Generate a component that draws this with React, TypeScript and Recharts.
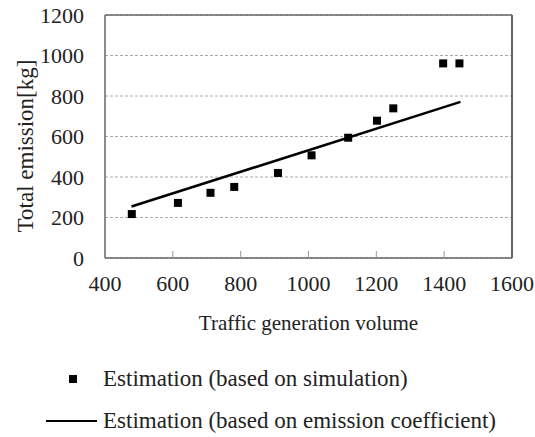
import {
  ScatterChart,
  Scatter,
  XAxis,
  YAxis,
  CartesianGrid,
  ReferenceLine,
  Legend,
  Label,
} from "recharts";

const FONT = "'Liberation Serif', 'Times New Roman', serif";
const AXIS_GRAY = "#666666";

// simulated estimation points (traffic volume, kg)
const simVolume = [479, 615, 711, 781, 910, 1009, 1117, 1202, 1250, 1397, 1445];
const simEmission = [217, 272, 322, 351, 420, 507, 594, 678, 739, 961, 961];

// emission coefficient line endpoints
const coefVolume = [478, 1448];
const coefEmission = [254, 771];

const xTicks = [400, 600, 800, 1000, 1200, 1400, 1600];
const yTicks = [0, 200, 400, 600, 800, 1000, 1200];

const seriesNames = [
  "Estimation (based on simulation)",
  "Estimation (based on emission coefficient)",
];

const simData = simVolume.map((x, i) => ({ x, y: simEmission[i] }));
const coefData = coefVolume.map((x, i) => ({ x, y: coefEmission[i] }));

const TICK_MARGIN_X = 17;

function XTick(props: any) {
  const { x, y, payload } = props;
  const axisY = y - TICK_MARGIN_X;
  return (
    <g>
      {payload.value !== 400 && payload.value !== 1600 && (
        <line x1={x} x2={x} y1={axisY} y2={axisY - 7} stroke="#999" strokeWidth={1} />
      )}
      <text
        x={x}
        y={y}
        dy="0.71em"
        textAnchor="middle"
        fontFamily={FONT}
        fontSize={22}
        fill="#222"
      >
        {payload.value}
      </text>
    </g>
  );
}

function YTick(props: any) {
  const { x, y, payload } = props;
  return (
    <text
      x={x}
      y={y}
      dy="0.35em"
      textAnchor="end"
      fontFamily={FONT}
      fontSize={22}
      fill="#222"
    >
      {payload.value}
    </text>
  );
}

function SquareDot(props: any) {
  const { cx, cy } = props;
  if (cx == null || cy == null) return null;
  return <rect x={cx - 4} y={cy - 4} width={8} height={8} fill="#000" />;
}

function LegendBox() {
  const textStyle = {
    position: "absolute" as const,
    left: 103,
    fontFamily: FONT,
    fontSize: 23,
    color: "#222",
    lineHeight: "26px",
    whiteSpace: "nowrap" as const,
  };
  return (
    <div style={{ position: "relative", width: 535, height: 70 }}>
      <svg
        width={535}
        height={70}
        style={{ position: "absolute", left: 0, top: 0 }}
      >
        <rect x={69} y={5} width={8} height={8} fill="#000" />
        <line x1={46} x2={97} y1={51} y2={51} stroke="#000" strokeWidth={2} />
      </svg>
      <div style={{ ...textStyle, top: -4 }}>{seriesNames[0]}</div>
      <div style={{ ...textStyle, top: 38 }}>{seriesNames[1]}</div>
    </div>
  );
}

export default function App() {
  return (
    <div style={{ position: "absolute", left: 0, top: 0, width: 535, height: 437, background: "#fff" }}>
      <ScatterChart
        width={535}
        height={437}
        margin={{ top: 15, right: 23, left: 0, bottom: 99 }}
      >
        <CartesianGrid
          vertical={false}
          stroke="#aaa"
          strokeDasharray="3 2"
        />
        <XAxis
          type="number"
          dataKey="x"
          domain={[400, 1600]}
          ticks={xTicks}
          interval={0}
          height={80}
          tickLine={false}
          tickSize={0}
          tickMargin={TICK_MARGIN_X}
          tick={<XTick />}
          axisLine={{ stroke: AXIS_GRAY, strokeWidth: 1.5 }}
        >
          <Label
            content={(p: any) => {
              const vb = p.viewBox;
              return (
                <text
                  x={vb.x + vb.width / 2}
                  y={vb.y + 65}
                  textAnchor="middle"
                  dominantBaseline="central"
                  fontFamily={FONT}
                  fontSize={21}
                  fill="#222"
                >
                  Traffic generation volume
                </text>
              );
            }}
          />
        </XAxis>
        <YAxis
          type="number"
          dataKey="y"
          domain={[0, 1200]}
          ticks={yTicks}
          interval={0}
          width={105}
          tickLine={false}
          tickSize={0}
          tickMargin={21}
          tick={<YTick />}
          axisLine={{ stroke: AXIS_GRAY, strokeWidth: 1.5 }}
        >
          <Label
            content={() => (
              <text
                x={25}
                y={146}
                transform="rotate(-90, 25, 146)"
                textAnchor="middle"
                dominantBaseline="central"
                fontFamily={FONT}
                fontSize={23}
                fill="#222"
              >
                Total emission[kg]
              </text>
            )}
          />
        </YAxis>
        <ReferenceLine y={1200} stroke={AXIS_GRAY} strokeWidth={1.5} />
        <ReferenceLine x={1600} stroke={AXIS_GRAY} strokeWidth={2} />
        <Scatter
          name={seriesNames[0]}
          data={simData}
          shape={<SquareDot />}
          isAnimationActive={false}
        />
        <Scatter
          name={seriesNames[1]}
          data={coefData}
          line={{ stroke: "#000", strokeWidth: 2.5 }}
          shape={() => null}
          isAnimationActive={false}
        />
        <Legend
          layout="horizontal"
          verticalAlign="middle"
          align="center"
          wrapperStyle={{ top: 370, left: 0, width: 535 }}
          content={() => <LegendBox />}
        />
      </ScatterChart>
    </div>
  );
}
